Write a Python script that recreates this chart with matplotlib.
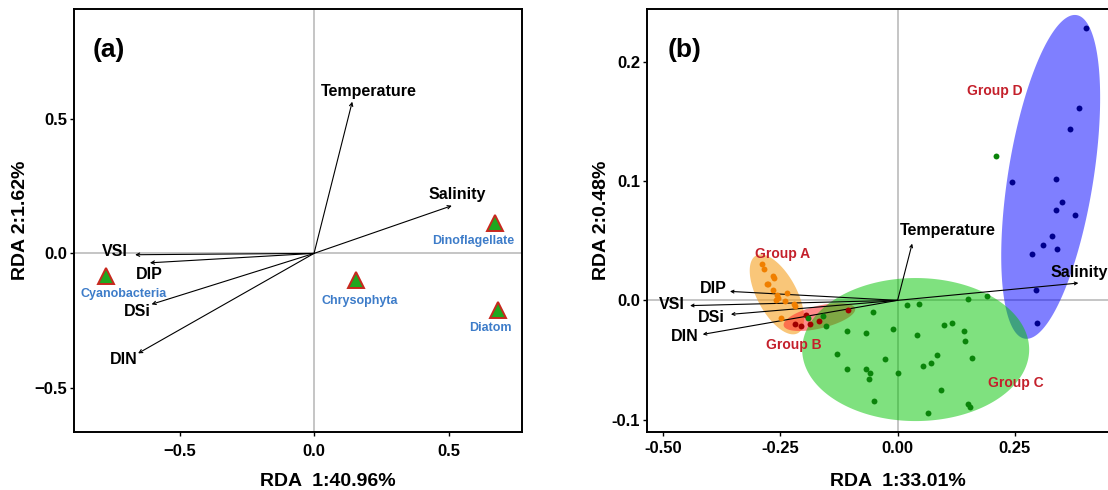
import numpy as np
import matplotlib
matplotlib.use("Agg")
import matplotlib.pyplot as plt

plt.rcParams["font.family"] = ["Liberation Sans", "DejaVu Sans"]
plt.rcParams["font.weight"] = "bold"

# ---- panel (a): RDA of phytoplankton groups ----
env_names = ["Temperature", "Salinity", "VSI", "DIP", "DSi", "DIN"]
env_a_x = [0.142, 0.512, -0.665, -0.610, -0.604, -0.654]
env_a_y = [0.563, 0.177, -0.005, -0.035, -0.189, -0.371]
env_a_lx = [0.202, 0.533, -0.740, -0.612, -0.657, -0.709]
env_a_ly = [0.602, 0.219, 0.006, -0.078, -0.217, -0.393]

species = ["Cyanobacteria", "Chrysophyta", "Dinoflagellate", "Diatom"]
sp_x = [-0.774, 0.155, 0.673, 0.683]
sp_y = [-0.084, -0.097, 0.111, -0.210]
sp_lx = [-0.709, 0.171, 0.592, 0.657]
sp_ly = [-0.152, -0.176, 0.047, -0.276]

# ---- panel (b): RDA of samples ----
env_b_x = [0.031, 0.385, -0.442, -0.357, -0.355, -0.415]
env_b_y = [0.0475, 0.0145, -0.0044, 0.0075, -0.0117, -0.0285]
env_b_lx = [0.106, 0.386, -0.480, -0.393, -0.396, -0.454]
env_b_ly = [0.0587, 0.0232, -0.0036, 0.0103, -0.0145, -0.0300]

grpA_x = [-0.2883, -0.2841, -0.2649, -0.2628, -0.2756, -0.2790, -0.2662, -0.2364,
          -0.2577, -0.2543, -0.2598, -0.2400, -0.2208, -0.2187, -0.2491]
grpA_y = [0.0308, 0.0266, 0.0204, 0.0190, 0.0140, 0.0134, 0.0084, 0.0065,
          0.0048, 0.0023, 0.0000, -0.0006, -0.0028, -0.0050, -0.0145]

grpB_x = [-0.2187, -0.2066, -0.1959, -0.1868, -0.1676, -0.1052]
grpB_y = [-0.0195, -0.0215, -0.0126, -0.0201, -0.0173, -0.0084]

grpC_x = [-0.1904, -0.1584, -0.1533, -0.1073, -0.0675, -0.0532, -0.0106, 0.0192,
          0.0460, 0.0417, -0.1299, -0.1073, -0.0675, -0.0590, -0.0605, -0.0264,
          0.0013, -0.0498, 0.0545, 0.0709, 0.0830, 0.0992, 0.1163, 0.1418,
          0.1433, 0.1576, 0.1503, 0.1895, 0.0916, 0.0639, 0.1491, 0.1540, 0.2093]
grpC_y = [-0.0145, -0.0134, -0.0215, -0.0260, -0.0274, -0.0098, -0.0243, -0.0042,
          -0.0031, -0.0288, -0.0447, -0.0578, -0.0573, -0.0606, -0.0656, -0.0495,
          -0.0612, -0.0841, -0.0551, -0.0528, -0.0459, -0.0210, -0.0187, -0.0254,
          -0.0338, -0.0480, 0.0014, 0.0036, -0.0754, -0.0945, -0.0872, -0.0889, 0.1210]

grpD_x = [0.4010, 0.3867, 0.3675, 0.2428, 0.3365, 0.3492, 0.3371, 0.3769,
          0.3286, 0.3101, 0.3386, 0.2866, 0.2939, 0.2960]
grpD_y = [0.2277, 0.1615, 0.1439, 0.0995, 0.1017, 0.0824, 0.0760, 0.0718,
          0.0542, 0.0467, 0.0433, 0.0391, 0.0084, -0.0190]

groups = ["Group A", "Group B", "Group D", "Group C"]
grp_lx = [-0.244, -0.221, 0.207, 0.252]
grp_ly = [0.039, -0.0377, 0.175, -0.0693]
# confidence ellipses: centre and two conjugate semi-axis vectors (data units)
ell_cx = [-0.257, -0.1665, 0.326, 0.0385]
ell_cy = [0.0050, -0.0140, 0.1034, -0.0412]
ell_ux = [0.0445, 0.0760, 0.0552, 0.2417]
ell_uy = [-0.0325, 0.0072, 0.1355, 0.0]
ell_vx = [0.0370, 0.0055, 0.0897, 0.0]
ell_vy = [0.0080, -0.0092, -0.00566, 0.0599]
ell_colors = ["#F5A020", "#FF2A2A", "#0000FF", "#00C400"]
ell_alpha = [0.6, 0.55, 0.5, 0.5]

RED_TXT = "#C4202B"
BLUE_TXT = "#3D7CC9"

fig = plt.figure(figsize=(11.08, 4.9), dpi=100)
ax1 = fig.add_axes([74.3 / 1108, 1 - 432.3 / 490, 448 / 1108, 423.3 / 490])
ax2 = fig.add_axes([647.3 / 1108, 1 - 431.7 / 490, 480.4 / 1108, 422.7 / 490])


def style(ax, xpad):
    for s in ax.spines.values():
        s.set_linewidth(1.4)
    ax.tick_params(axis="both", length=3, width=1, labelsize=12)
    ax.tick_params(axis="x", pad=xpad)
    ax.tick_params(axis="y", pad=2)
    ax.axhline(0, color="#BBBBBB", lw=1.2, zorder=0)
    ax.axvline(0, color="#BBBBBB", lw=1.2, zorder=0)


def arrows(ax, xs, ys, lxs, lys, scale):
    for name, x, y, lx, ly in zip(env_names, xs, ys, lxs, lys):
        ax.annotate("", xy=(x, y), xytext=(0, 0),
                    arrowprops=dict(arrowstyle="->", lw=0.8, color="black",
                                    shrinkA=0, shrinkB=0, mutation_scale=scale))
        ax.text(lx, ly, name, ha="center", va="center", fontsize=11.5,
                fontweight="bold", color="black")


# panel (a)
style(ax1, 5.5)
ax1.set_xlim(-0.891, 0.774)
ax1.set_ylim(-0.664, 0.907)
arrows(ax1, env_a_x, env_a_y, env_a_lx, env_a_ly, 6)
ax1.plot(sp_x, sp_y, ls="none", marker="^", ms=11.5, mfc="#1FA81F",
         mec="#C8281E", mew=1.4, zorder=4)
for name, lx, ly in zip(species, sp_lx, sp_ly):
    ax1.text(lx, ly, name, ha="center", va="center", fontsize=9,
             fontweight="bold", color=BLUE_TXT)
ax1.set_xticks([-0.5, 0.0, 0.5])
ax1.set_xticklabels(["\u22120.5", "0.0", "0.5"])
ax1.set_yticks([-0.5, 0.0, 0.5])
ax1.set_yticklabels(["\u22120.5", "0.0", "0.5"])
ax1.set_xlabel("RDA  1:40.96%", fontsize=14, fontweight="bold")
ax1.set_ylabel("RDA 2:1.62%", fontsize=14, fontweight="bold")
ax1.xaxis.set_label_coords(0.566, -0.117)
ax1.xaxis.label.set_va("center")
ax1.yaxis.set_label_coords(-0.119, 0.5)
ax1.yaxis.label.set_va("center")
ax1.text(-0.761, 0.755, "(a)", ha="center", va="center", fontsize=19,
         fontweight="bold")

# panel (b)
style(ax2, 3.5)
ax2.set_xlim(-0.533, 0.49)
ax2.set_ylim(-0.110, 0.244)
t = np.linspace(0, 2 * np.pi, 240)
for i in range(len(groups)):
    ex = ell_cx[i] + ell_ux[i] * np.cos(t) + ell_vx[i] * np.sin(t)
    ey = ell_cy[i] + ell_uy[i] * np.cos(t) + ell_vy[i] * np.sin(t)
    ax2.fill(ex, ey, color=ell_colors[i], alpha=ell_alpha[i], lw=0, zorder=1)
arrows(ax2, env_b_x, env_b_y, env_b_lx, env_b_ly, 5)
ax2.scatter(grpA_x, grpA_y, s=18, color="#F07F00", zorder=3, lw=0)
ax2.scatter(grpB_x, grpB_y, s=18, color="#A00000", zorder=3, lw=0)
ax2.scatter(grpC_x, grpC_y, s=18, color="#0A840A", zorder=3, lw=0)
ax2.scatter(grpD_x, grpD_y, s=18, color="#00008C", zorder=3, lw=0)
for name, lx, ly in zip(groups, grp_lx, grp_ly):
    ax2.text(lx, ly, name, ha="center", va="center", fontsize=10,
             fontweight="bold", color=RED_TXT, zorder=5)
ax2.set_xticks([-0.50, -0.25, 0.00, 0.25])
ax2.set_xticklabels(["-0.50", "-0.25", "0.00", "0.25"])
ax2.set_yticks([-0.1, 0.0, 0.1, 0.2])
ax2.set_yticklabels(["-0.1", "0.0", "0.1", "0.2"])
ax2.set_xlabel("RDA  1:33.01%", fontsize=14, fontweight="bold")
ax2.set_ylabel("RDA 2:0.48%", fontsize=14, fontweight="bold")
ax2.xaxis.set_label_coords(0.5206, -0.118)
ax2.xaxis.label.set_va("center")
ax2.yaxis.set_label_coords(-0.0958, 0.5)
ax2.yaxis.label.set_va("center")
ax2.text(-0.453, 0.2096, "(b)", ha="center", va="center", fontsize=19,
         fontweight="bold")

fig.savefig("out.png", dpi=100)
